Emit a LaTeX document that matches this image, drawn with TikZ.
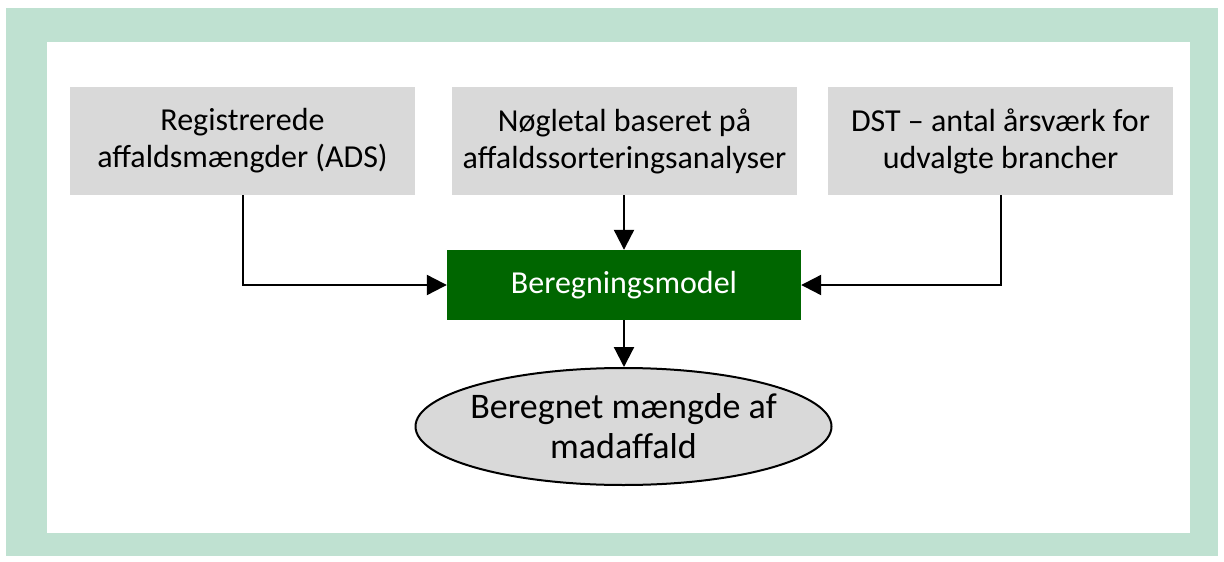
\documentclass[tikz,border=0pt]{standalone}
\usepackage{fontspec}
\setmainfont{Carlito}
\usetikzlibrary{shapes.geometric,arrows.meta}
\definecolor{framegreen}{HTML}{BFE1D1}
\definecolor{boxgray}{HTML}{D9D9D9}
\definecolor{modelgreen}{HTML}{006600}
\definecolor{ellgray}{HTML}{D9D9D9}
\tikzset{
  srcbox/.style={fill=boxgray, draw=none, minimum width=345pt, minimum height=108pt, align=center, font=\fontsize{32pt}{37pt}\selectfont, inner sep=0pt},
  modelbox/.style={fill=modelgreen, draw=none, minimum width=354pt, minimum height=70pt, text=white, font=\fontsize{32pt}{37pt}\selectfont, inner sep=0pt},
  resell/.style={ellipse, fill=ellgray, draw=black, line width=2pt, minimum width=416pt, minimum height=117pt, inner sep=0pt},
  restext/.style={align=center, font=\fontsize{36pt}{40pt}\selectfont, inner sep=0pt},
  conn/.style={line width=2.2pt, -{Triangle[length=20pt,width=20pt]}}
}
\begin{document}
\begin{tikzpicture}[x=1pt,y=-1pt]
\useasboundingbox (0,0) rectangle (1224,562);
\fill[framegreen] (6,8) rectangle (1218,556);
\fill[white] (47,42) rectangle (1190,533);
\node[srcbox] (a) at (242.5,141) {Registrerede\\affaldsmængder (ADS)};
\node[srcbox] (b) at (624.5,141) {Nøgletal baseret på\\affaldssorteringsanalyser};
\node[srcbox] (c) at (1000.5,141) {DST – antal årsværk for\\udvalgte brancher};
\node[modelbox] (m) at (624,285) {Beregningsmodel};
\node[resell] (e) at (623.5,426.5) {};
\node[restext] (et) at (e.center) {Beregnet mængde af\\madaffald};
\coordinate (ab) at (243,195);
\coordinate (cb) at (1001,195);
\draw[conn, line join=miter] (ab) |- (m.west);
\draw[conn, line join=miter] (cb) |- (m.east);
\draw[conn] (b.south -| m.north) -- (m.north);
\draw[conn] (m.south) -- (m.south |- e.north);
\end{tikzpicture}
\end{document}
